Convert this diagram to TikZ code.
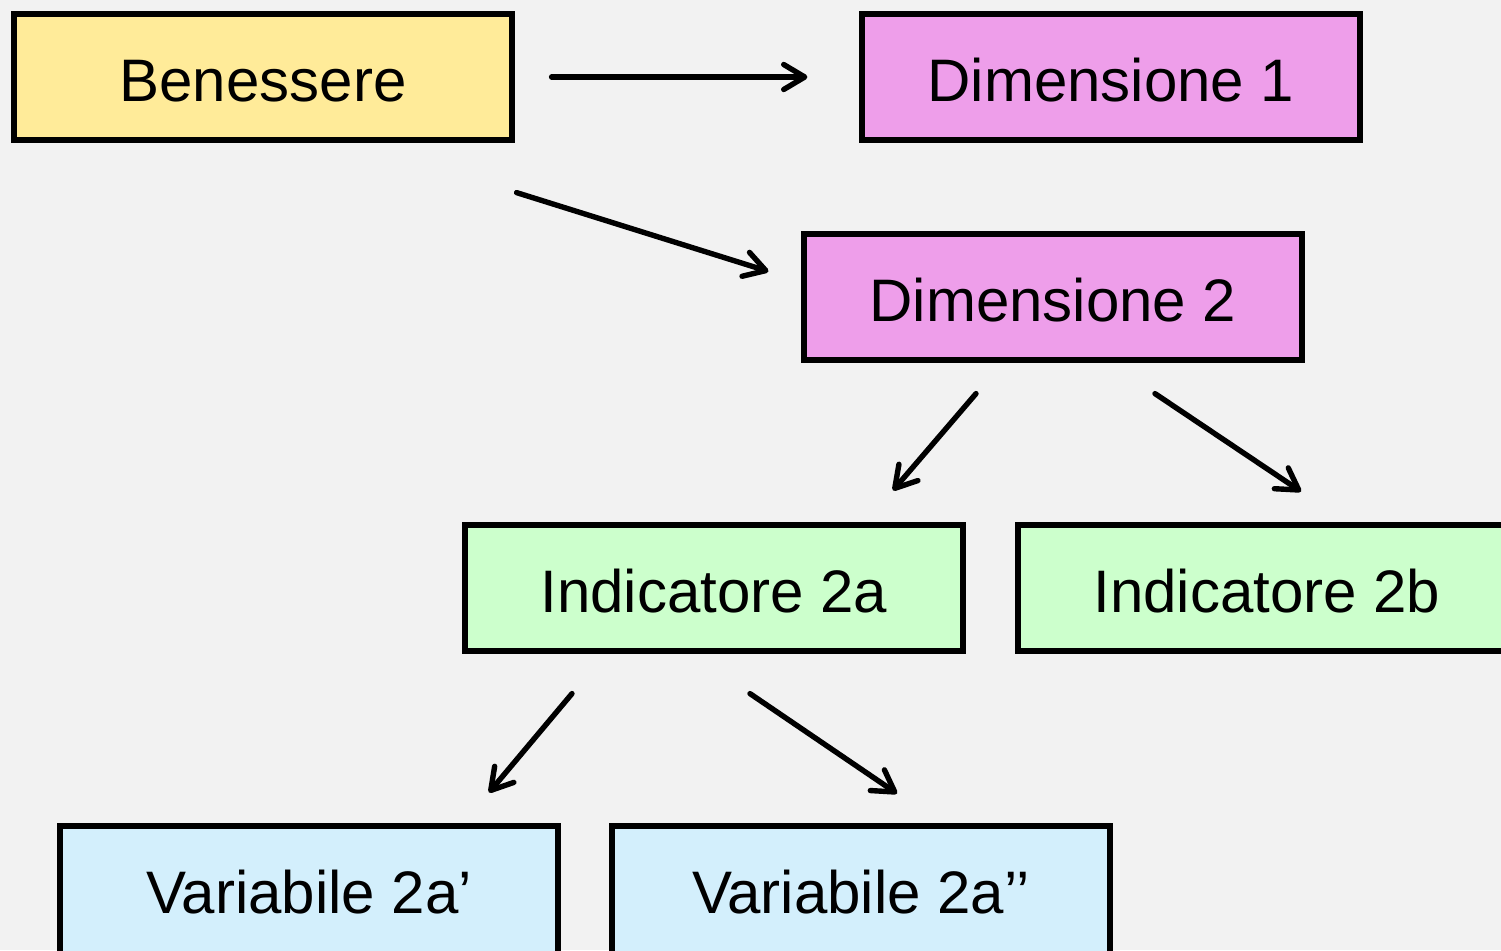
\documentclass[tikz,border=0pt]{standalone}
\usepackage{fontspec}
\setmainfont{Liberation Sans}
\usetikzlibrary{arrows.meta,calc}
\definecolor{bgGray}{HTML}{F2F2F2}
\definecolor{benYellow}{HTML}{FFEB99}
\definecolor{dimPink}{HTML}{EE9EEA}
\definecolor{indGreen}{HTML}{CCFFCC}
\definecolor{varBlue}{HTML}{D3EFFC}
\tikzset{
  boxline/.style={draw=black, line width=2.6pt, line join=miter},
  box/.style={boxline, rectangle,
    minimum width=249pt, minimum height=63pt, inner sep=0pt,
    text height=24.5pt, text depth=0pt,
    font=\fontsize{30pt}{36pt}\selectfont},
  openbox/.style={box, draw=none, outer sep=0pt},
  arr/.style={draw=black, line width=2.7pt, line cap=round,
    -{Straight Barb[length=10.5pt,width=12.5pt,round]}}
}
\begin{document}
\begin{tikzpicture}[x=0.5pt,y=-0.5pt]
  \useasboundingbox (0,0) rectangle (1501,950);
  \clip (0,0) rectangle (1501,950);
  \fill[bgGray] (0,0) rectangle (1501,950);

  % boxes
  \node[box, fill=benYellow] (ben)  at (263,77)   {Benessere};
  \node[box, fill=dimPink]   (dim1) at (1111,77)  {Dimensione 1};
  \node[box, fill=dimPink]   (dim2) at (1053,297) {Dimensione 2};
  \node[box, fill=indGreen]  (ind2a) at (714,588) {Indicatore 2a};

  % boxes that run on past the edge of the page: open outlines
  \node[openbox, fill=indGreen] (ind2b) at (1267,588) {Indicatore 2b};
  \fill[indGreen] (ind2b.north east) rectangle ([xshift=20pt]ind2b.south east);
  \draw[boxline] ([xshift=20pt]ind2b.north east) -- (ind2b.north west)
                 -- (ind2b.south west) -- ([xshift=20pt]ind2b.south east);

  \node[openbox, fill=varBlue] (var1) at (309,889) {Variabile 2a’};
  \fill[varBlue] (var1.south west) rectangle ([yshift=-20pt]var1.south east);
  \draw[boxline] ([yshift=-20pt]var1.south west) -- (var1.north west)
                 -- (var1.north east) -- ([yshift=-20pt]var1.south east);

  \node[openbox, fill=varBlue] (var2) at (861,889) {Variabile 2a’’};
  \fill[varBlue] (var2.south west) rectangle ([yshift=-20pt]var2.south east);
  \draw[boxline] ([yshift=-20pt]var2.south west) -- (var2.north west)
                 -- (var2.north east) -- ([yshift=-20pt]var2.south east);

  % connectors
  \draw[arr, shorten <=37pt*0.5, shorten >=52pt*0.5] (ben.east) -- (dim1.west);
  \draw[arr] ($(ben.south east)+(2,50)$) -- ($(dim2.north west)+(-33,40)$);
  \draw[arr] ($(dim2.south)+(-77,31)$) -- ($(ind2a.north)+(179,-32)$);
  \draw[arr] ($(dim2.south)+(102,31)$) -- ($(ind2b.north)+(34,-33.5)$);
  \draw[arr] ($(ind2a.south)+(-142,40)$) -- ($(var1.north)+(180,-33.5)$);
  \draw[arr] ($(ind2a.south)+(36,40)$) -- ($(var2.north)+(36,-32.5)$);
\end{tikzpicture}
\end{document}
